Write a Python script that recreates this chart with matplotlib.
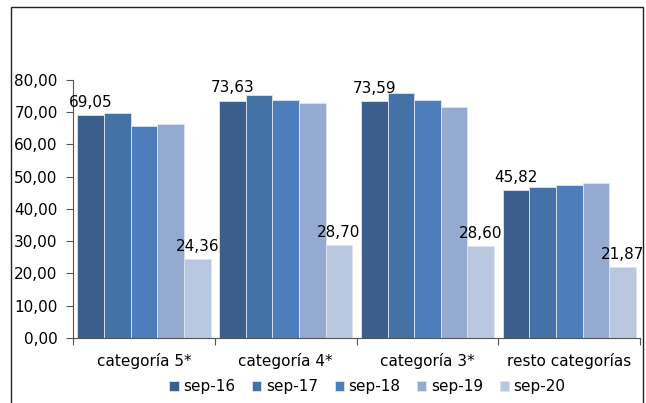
import numpy as np
import matplotlib
matplotlib.use('Agg')
import matplotlib.pyplot as plt
from matplotlib.patches import Rectangle

plt.rcParams['font.family'] = ['DejaVu Sans']

categories = ['categoría 5*', 'categoría 4*', 'categoría 3*', 'resto categorías']
series_names = ['sep-16', 'sep-17', 'sep-18', 'sep-19', 'sep-20']
sep16 = [69.05, 73.63, 73.59, 45.82]
sep17 = [69.7, 75.4, 75.9, 46.9]
sep18 = [65.8, 73.7, 73.7, 47.3]
sep19 = [66.4, 72.9, 71.6, 48.1]
sep20 = [24.36, 28.70, 28.60, 21.87]
colors = ['#3B5E8C', '#4471A6', '#4D7EBB', '#94AAD1', '#BAC7E0']

series = [sep16, sep17, sep18, sep19, sep20]
fs = 11

fig = plt.figure(figsize=(6.46, 4.03), dpi=100)
ax = fig.add_axes([0.113, 0.1613, 0.878, 0.6402])

x = np.arange(len(categories))
bw = 0.188
for i, vals in enumerate(series):
    pos = x + (i - 2) * bw
    ax.bar(pos, vals, width=bw, color=colors[i], edgecolor='#dfe5f0',
           linewidth=0.6, label=series_names[i])
    if i in (0, 4):
        for p, v in zip(pos, vals):
            ax.text(p, v + 1.6, f'{v:.2f}'.replace('.', ','), ha='center',
                    va='bottom', fontsize=fs, color='black')

ax.set_xlim(-0.5, len(categories) - 0.5)
ax.set_ylim(0, 80)
ax.set_yticks(np.arange(0, 81, 10))
ax.set_yticklabels([f'{v:.2f}'.replace('.', ',') for v in np.arange(0, 81, 10)], fontsize=fs)
ax.set_xticks(np.arange(-0.5, len(categories), 1))
ax.set_xticklabels([])
ax.set_xticks(x, minor=True)
ax.set_xticklabels(categories, minor=True, fontsize=fs)
ax.tick_params(axis='x', which='minor', length=0, pad=11)
ax.tick_params(axis='x', which='major', length=5, color='#555555', direction='out')
ax.tick_params(axis='y', length=5, color='#555555', direction='out', pad=6)
for s in ['top', 'right']:
    ax.spines[s].set_visible(False)
for s in ['left', 'bottom']:
    ax.spines[s].set_color('#555555')

ax.legend(loc='center', bbox_to_anchor=(0.569, 0.04), bbox_transform=fig.transFigure,
          ncol=5, frameon=False, fontsize=fs, handlelength=0.6, handleheight=0.6,
          handletextpad=0.3, columnspacing=1.1)

# outer chart frame
fig.patches.append(Rectangle((11 / 646, -0.1), 632 / 646, 1.1 - 7 / 403,
                             transform=fig.transFigure, fill=False,
                             edgecolor='#222222', linewidth=1.0))

fig.savefig('out.png', dpi=100)
